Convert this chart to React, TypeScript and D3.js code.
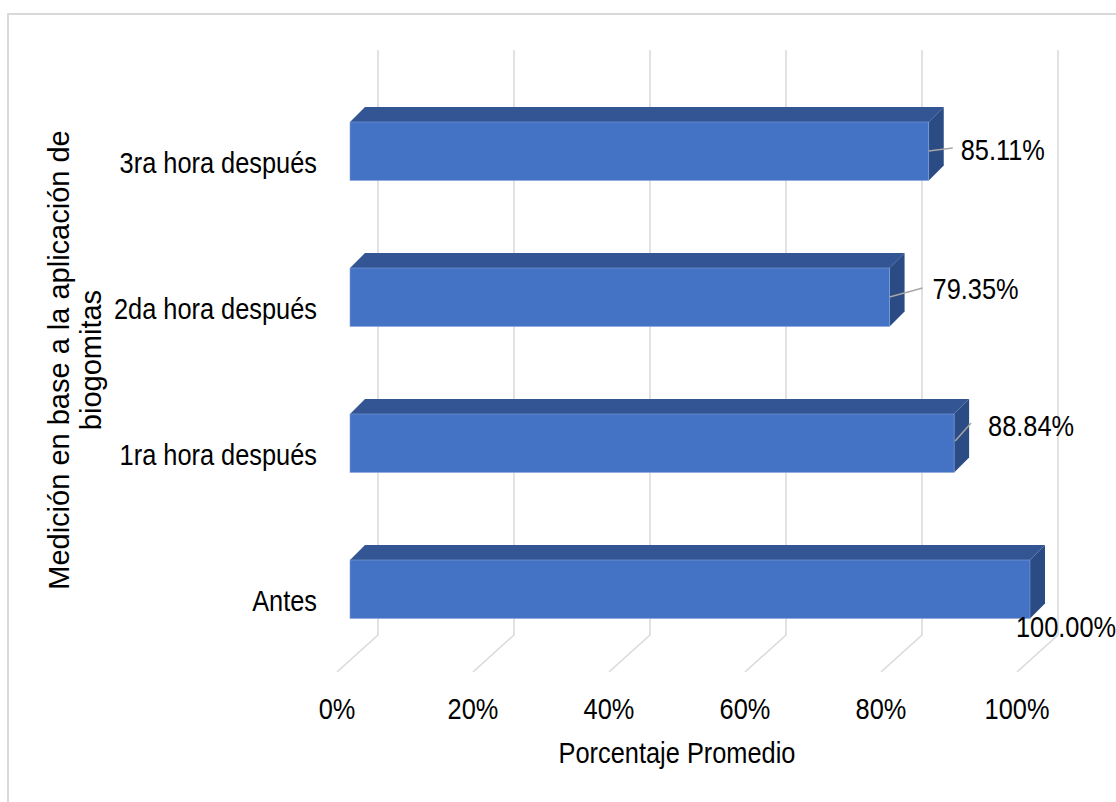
import React from "react";
import * as d3 from "d3";

const categories = ["3ra hora después", "2da hora después", "1ra hora después", "Antes"];
const values = [0.8511, 0.7935, 0.8884, 1.0];
const valueLabels = ["85.11%", "79.35%", "88.84%", "100.00%"];
const ticks = [0, 0.2, 0.4, 0.6, 0.8, 1.0];
const tickLabels = ["0%", "20%", "40%", "60%", "80%", "100%"];
const yTitleLines = ["Medición en base a la aplicación de", "biogomitas"];
const xTitle = "Porcentaje Promedio";

// label layout (leader line end offset and text offset relative to bar front right/top)
const labelLayout = [
  { leader: [[0, 29], [24, 26]], text: [32, 38] },
  { leader: [[0, 29], [33, 20]], text: [43, 31] },
  { leader: [[1, 27], [17, 9]], text: [34, 22] },
  { leader: null, text: [-14, 77] },
];

const W = 1116;
const H = 802;
const FONT = "'Liberation Sans', Arial, sans-serif";
const FS = 29;
const SX = 0.875;

const xFront = d3.scaleLinear().domain([0, 1]).range([350, 1030]);
const xBack = d3.scaleLinear().domain([0, 1]).range([378, 1058]);
const xFloor = d3.scaleLinear().domain([0, 1]).range([337, 1017]);
const y = d3.scaleBand<string>().domain(categories).range([122, 618.4]).paddingInner(0.6).paddingOuter(0).align(0);

const DEPTH_X = 15;
const DEPTH_Y = 15;
const GRID_TOP = 50;
const GRID_BOTTOM = 635;
const FLOOR_Y = 672;

function HText({ x, y, anchor, children }: { x: number; y: number; anchor: string; children: React.ReactNode }) {
  return (
    <text
      transform={`translate(${x},${y}) scale(${SX},1)`}
      textAnchor={anchor}
      fontFamily={FONT}
      fontSize={FS}
      fill="#000"
    >
      {children}
    </text>
  );
}

export default function App() {
  const bw = y.bandwidth();
  return (
    <svg
      width={W}
      height={H}
      style={{ position: "absolute", left: 0, top: 0, display: "block", background: "#fff" }}
    >
      <rect x={8} y={14} width={1300} height={1000} fill="#fff" stroke="#D9D9D9" strokeWidth={2} />
      {/* gridlines: back wall + floor */}
      {ticks.map((t, i) => (
        <polyline
          key={"g" + i}
          points={`${xBack(t)},${GRID_TOP} ${xBack(t)},${GRID_BOTTOM} ${xFloor(t)},${FLOOR_Y}`}
          fill="none"
          stroke="#D9D9D9"
          strokeWidth={1.5}
        />
      ))}
      {/* bars */}
      {categories.map((c, i) => {
        const x0 = xFront(0);
        const xr = xFront(values[i]);
        const yt = y(c)!;
        const yb = yt + bw;
        return (
          <g key={"b" + i}>
            <polygon
              points={`${x0},${yt} ${x0 + DEPTH_X},${yt - DEPTH_Y} ${xr + DEPTH_X},${yt - DEPTH_Y} ${xr},${yt}`}
              fill="#335594"
            />
            <polygon
              points={`${xr},${yt} ${xr + DEPTH_X},${yt - DEPTH_Y} ${xr + DEPTH_X},${yb - DEPTH_Y} ${xr},${yb}`}
              fill="#2B4B84"
            />
            <rect x={x0} y={yt} width={xr - x0} height={bw} fill="#4472C4" stroke="#7F9FD8" strokeWidth={0.6} />
          </g>
        );
      })}
      {/* value labels */}
      {categories.map((c, i) => {
        const xr = xFront(values[i]);
        const yt = y(c)!;
        const L = labelLayout[i];
        return (
          <g key={"v" + i}>
            {L.leader && (
              <line
                x1={xr + L.leader[0][0]}
                y1={yt + L.leader[0][1]}
                x2={xr + L.leader[1][0]}
                y2={yt + L.leader[1][1]}
                stroke="#A6A6A6"
                strokeWidth={1.5}
              />
            )}
            <HText x={xr + L.text[0]} y={yt + L.text[1]} anchor="start">
              {valueLabels[i]}
            </HText>
          </g>
        );
      })}
      {/* category labels */}
      {categories.map((c, i) => (
        <HText key={"c" + i} x={317} y={y(c)! + bw - 7} anchor="end">
          {c}
        </HText>
      ))}
      {/* tick labels */}
      {ticks.map((t, i) => (
        <HText key={"t" + i} x={xFloor(t)} y={719} anchor="middle">
          {tickLabels[i]}
        </HText>
      ))}
      <HText x={(xFloor(0) + xFloor(1)) / 2} y={763} anchor="middle">
        {xTitle}
      </HText>
      {/* y title */}
      {yTitleLines.map((line, i) => (
        <text
          key={"yt" + i}
          transform={`translate(${69 + i * 32},360) rotate(-90)`}
          textAnchor="middle"
          fontFamily={FONT}
          fontSize={FS}
          fill="#000"
        >
          {line}
        </text>
      ))}
    </svg>
  );
}
